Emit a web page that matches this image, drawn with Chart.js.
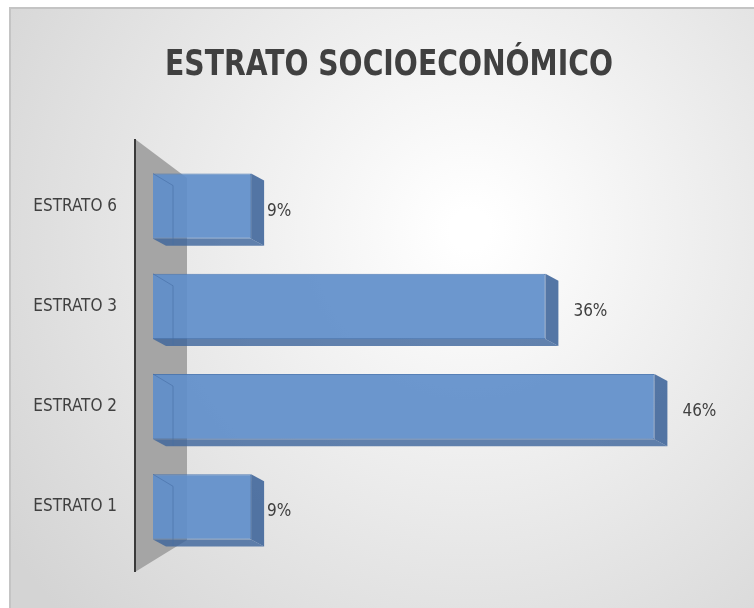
<!DOCTYPE html>
<html>
<head>
<meta charset="utf-8">
<script src="https://cdn.jsdelivr.net/npm/chart.js@4"></script>
<style>
  html, body { margin: 0; padding: 0; background: #fff; }
  #wrap { width: 754px; height: 608px; }
</style>
</head>
<body>
<div id="wrap"><canvas id="estratoChart" width="754" height="608"></canvas></div>
<script>
// Chart data
const categories = ['ESTRATO 6', 'ESTRATO 3', 'ESTRATO 2', 'ESTRATO 1'];
const percentages = [9, 36, 46, 9];
const chartTitle = 'ESTRATO SOCIOECONÓMICO';

const fontFamily = '"DejaVu Sans Condensed", "Open Sans", sans-serif';

// Background: white page, gray frame, soft radial gradient and the title
const backgroundPlugin = {
    id: 'background',
    beforeDraw(chart) {
        const ctx = chart.ctx;
        ctx.save();
        ctx.fillStyle = '#ffffff';
        ctx.fillRect(0, 0, chart.width, chart.height);
        const g = ctx.createRadialGradient(470, 230, 20, 470, 230, 560);
        g.addColorStop(0, '#ffffff');
        g.addColorStop(1, '#d4d4d4');
        ctx.fillStyle = g;
        ctx.fillRect(10, 8, chart.width, chart.height);
        ctx.strokeStyle = '#c4c4c4';
        ctx.lineWidth = 2;
        ctx.strokeRect(10, 8, chart.width + 10, chart.height + 10);

        // title, squeezed to the width it has in the original
        ctx.fillStyle = '#404040';
        ctx.font = 'bold 36px ' + fontFamily;
        ctx.textAlign = 'center';
        ctx.textBaseline = 'middle';
        ctx.fillText(chartTitle, 389, 66, 448);
        ctx.restore();
    }
};

// Gray 3D side wall behind the bars
const wallPlugin = {
    id: 'wall',
    beforeDatasetsDraw(chart) {
        const ctx = chart.ctx;
        const a = chart.chartArea;
        const x0 = a.left - 18, x1 = a.left + 34;
        ctx.save();
        ctx.fillStyle = '#a5a5a5';
        ctx.beginPath();
        ctx.moveTo(x0, a.top - 17);
        ctx.lineTo(x1, a.top + 22);
        ctx.lineTo(x1, a.bottom - 17);
        ctx.lineTo(x0, a.bottom + 15);
        ctx.closePath();
        ctx.fill();
        ctx.strokeStyle = '#3a3a3a';
        ctx.lineWidth = 2;
        ctx.beginPath();
        ctx.moveTo(x0, a.top - 17);
        ctx.lineTo(x0, a.bottom + 15);
        ctx.stroke();
        ctx.restore();
    }
};

// Extra faces so the bars look like boxes, plus value labels
const boxPlugin = {
    id: 'boxes',
    afterDatasetsDraw(chart) {
        const ctx = chart.ctx;
        const meta = chart.getDatasetMeta(0);
        const dx = 13, dy = 7;
        ctx.save();
        meta.data.forEach(function(bar, i) {
            const top = bar.y - bar.height / 2;
            const bottom = bar.y + bar.height / 2;
            // right face
            ctx.fillStyle = 'rgba(55, 95, 150, 0.85)';
            ctx.beginPath();
            ctx.moveTo(bar.x, top);
            ctx.lineTo(bar.x + dx, top + dy);
            ctx.lineTo(bar.x + dx, bottom + dy);
            ctx.lineTo(bar.x, bottom);
            ctx.closePath();
            ctx.fill();
            // bottom face
            ctx.fillStyle = 'rgba(60, 100, 155, 0.8)';
            ctx.beginPath();
            ctx.moveTo(bar.base, bottom);
            ctx.lineTo(bar.x, bottom);
            ctx.lineTo(bar.x + dx, bottom + dy);
            ctx.lineTo(bar.base + dx, bottom + dy);
            ctx.closePath();
            ctx.fill();
            // inner edge lines
            ctx.strokeStyle = 'rgba(70, 110, 165, 0.6)';
            ctx.lineWidth = 1;
            ctx.beginPath();
            ctx.moveTo(bar.base + 20, top + dy + 5);
            ctx.lineTo(bar.base + 20, bottom + dy - 1);
            ctx.moveTo(bar.base, top);
            ctx.lineTo(bar.base + 20, top + dy + 5);
            ctx.stroke();

            ctx.fillStyle = '#404040';
            ctx.font = '17px ' + fontFamily;
            ctx.textAlign = 'left';
            ctx.textBaseline = 'middle';
            const gap = percentages[i] > 20 ? 28 : 16;
            ctx.fillText(percentages[i] + '%', bar.x + gap, bar.y + 5);
        });
        ctx.restore();
    }
};

const ctx = document.getElementById('estratoChart').getContext('2d');
new Chart(ctx, {
    type: 'bar',
    data: {
        labels: categories,
        datasets: [{
            data: percentages,
            backgroundColor: 'rgba(96, 142, 202, 0.92)',
            borderColor: 'rgba(70, 115, 175, 0.9)',
            borderWidth: 1,
            barPercentage: 0.65,
            categoryPercentage: 1
        }]
    },
    options: {
        indexAxis: 'y',
        responsive: false,
        animation: false,
        layout: {
            padding: { left: 8, right: 56, top: 156, bottom: 51 }
        },
        plugins: {
            legend: { display: false },
            tooltip: { enabled: false },
            title: { display: false }
        },
        scales: {
            x: {
                display: false,
                min: 0,
                max: 50
            },
            y: {
                grid: { display: false },
                border: { display: false },
                ticks: {
                    color: '#404040',
                    padding: 28,
                    font: { family: fontFamily, size: 17 }
                },
                afterFit(scale) { scale.width = 145; }
            }
        }
    },
    plugins: [backgroundPlugin, wallPlugin, boxPlugin]
});
</script>
</body>
</html>
